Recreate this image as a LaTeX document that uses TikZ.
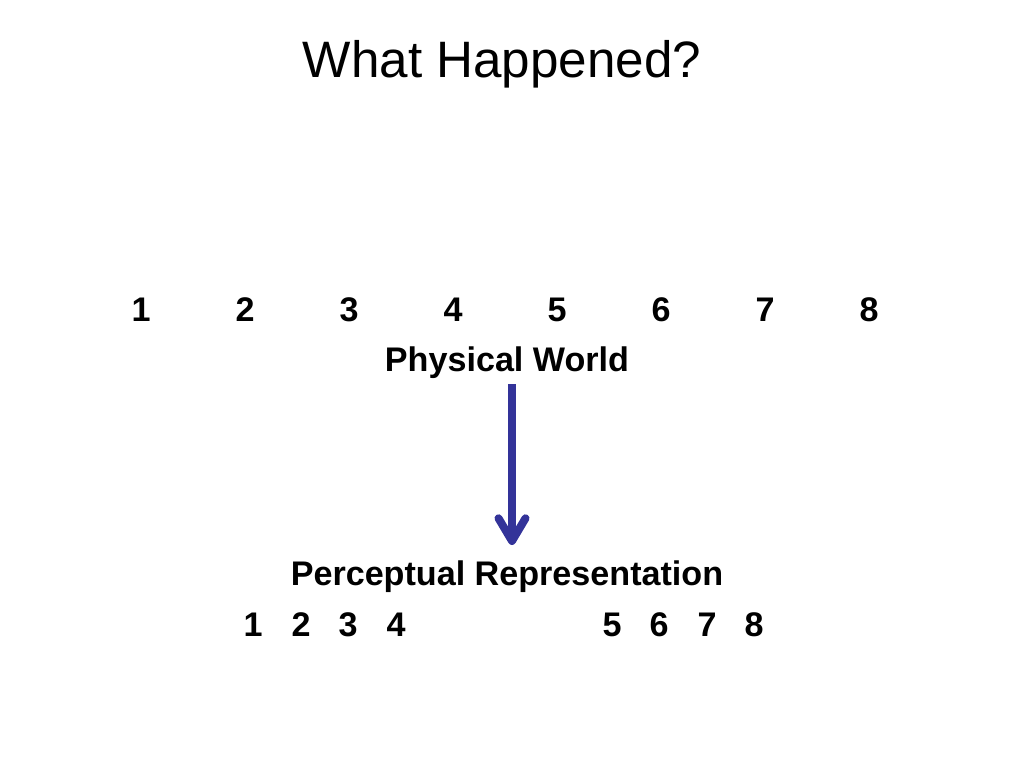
\documentclass[tikz,border=0pt]{standalone}
\usepackage{fontspec}
\setmainfont{Liberation Sans}
\usetikzlibrary{arrows.meta}
\definecolor{arrowblue}{RGB}{51,51,153}

\begin{document}
\begin{tikzpicture}[x=0.703125pt,y=-0.703125pt,
  txt/.style={anchor=base,inner sep=0pt,font=\fontsize{24}{28}\selectfont\bfseries},
  flow/.style={draw=arrowblue,line width=5.6pt,-{Straight Barb[length=16pt,width=19pt,round]}}]
\useasboundingbox (0,0) rectangle (1024,768);
\node [anchor=base,inner sep=0pt,font=\fontsize{36}{42}\selectfont] (title) at (502,78) {What Happened?};
\foreach \i in {1,...,8}
  \node [txt] (p\i) at ({141+104*(\i-1)},322) {\i};
\node [txt] (world) at (507,371) {Physical World};
\node [txt] (percept) at (507,585) {Perceptual Representation};
\foreach \i/\x in {1/253,2/301,3/348,4/396,5/612,6/659,7/707,8/754}
  \node [txt] (q\i) at (\x,636) {\i};
\coordinate (from) at (512,384);
\coordinate (to) at (512,545);
\draw [flow] (from) -- (to);
\end{tikzpicture}
\end{document}
